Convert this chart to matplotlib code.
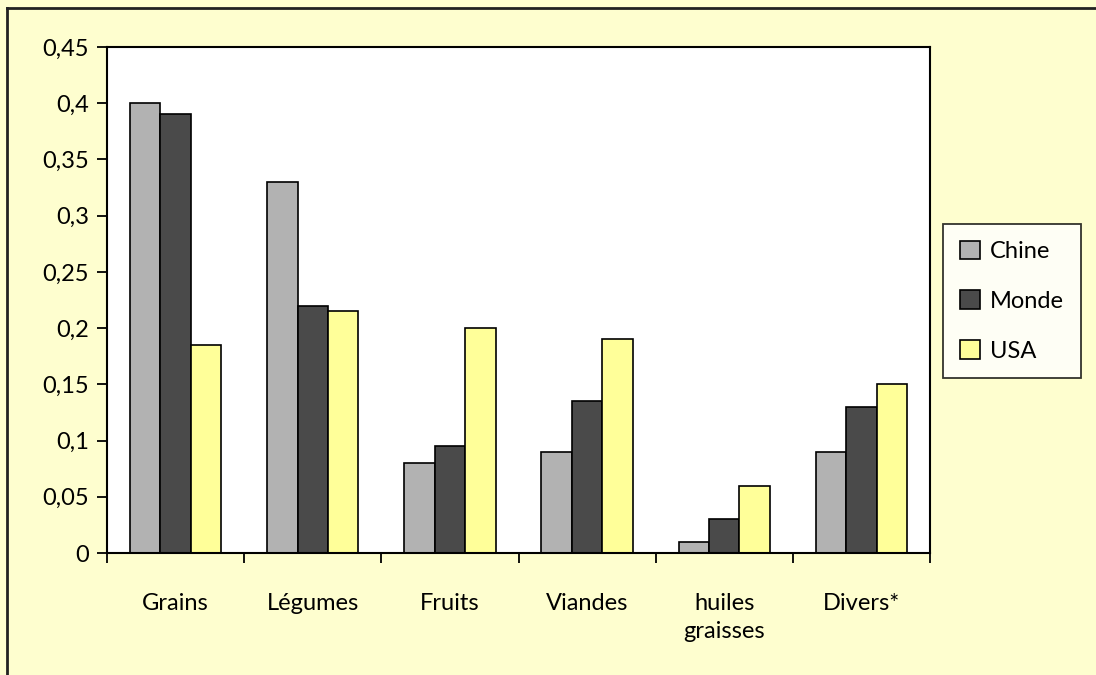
import numpy as np
import matplotlib
matplotlib.use("Agg")
import matplotlib.pyplot as plt
from matplotlib.lines import Line2D
from matplotlib.ticker import FixedLocator, FuncFormatter

plt.rcParams['font.family'] = ['Lato', 'DejaVu Sans']

# Share of each food group in the diet
categories = ["Grains", "Légumes", "Fruits", "Viandes", "huiles\ngraisses", "Divers*"]
chine = [0.40, 0.33, 0.08, 0.09, 0.01, 0.09]
monde = [0.39, 0.22, 0.095, 0.135, 0.03, 0.13]
usa = [0.185, 0.215, 0.20, 0.19, 0.06, 0.15]
series = [("Chine", chine, "#b2b2b2"),
          ("Monde", monde, "#4a4a4a"),
          ("USA", usa, "#ffff99")]
y_ticks = [0, 0.05, 0.1, 0.15, 0.2, 0.25, 0.3, 0.35, 0.4, 0.45]

bg = "#fefecf"
fs = 17
fig = plt.figure(figsize=(10.96, 6.75), dpi=100, facecolor=bg)

# dark frame lines along the left and top of the chart area
fx, fy = 7 / 1096, 1 - 8 / 675
fig.lines.append(Line2D([fx, fx], [0, fy], transform=fig.transFigure,
                        color="#222222", linewidth=2.0))
fig.lines.append(Line2D([fx, 1], [fy, fy], transform=fig.transFigure,
                        color="#222222", linewidth=2.0))

ax = fig.add_axes([107 / 1096, 1 - 553 / 675, (930 - 107) / 1096, (553 - 47) / 675])
ax.set_facecolor("white")

x = np.arange(len(categories)) + 0.5
w = 0.222
for i, (name, vals, col) in enumerate(series):
    ax.bar(x + (i - 1) * w, vals, w, color=col, edgecolor="black",
           linewidth=1.2, label=name)

ax.set_xlim(0, len(categories))
ax.set_ylim(0, 0.45)
ax.set_yticks(y_ticks)
ax.yaxis.set_major_formatter(FuncFormatter(lambda v, p: f"{v:g}".replace(".", ",")))
ax.xaxis.set_major_locator(FixedLocator(np.arange(len(categories) + 1)))
ax.xaxis.set_major_formatter(FuncFormatter(lambda v, p: ""))
ax.set_xticks(x, minor=True)
ax.set_xticklabels(categories, minor=True, fontsize=fs, linespacing=1.4)
ax.tick_params(axis="x", which="minor", length=0, pad=29)
ax.tick_params(axis="x", which="major", length=7, width=1.3, direction="out")
ax.tick_params(axis="y", length=7, width=1.3, labelsize=fs, pad=6)
for s in ax.spines.values():
    s.set_linewidth(1.5)

leg = ax.legend(loc="upper left", bbox_to_anchor=(943 / 1096, 1 - 224 / 675),
                bbox_transform=fig.transFigure, fontsize=fs, frameon=True,
                fancybox=False, edgecolor="black", handlelength=0.85,
                handleheight=0.85, handletextpad=0.45, labelspacing=1.2,
                borderpad=0.7, borderaxespad=0)
leg.get_frame().set_linewidth(1.3)
leg.get_frame().set_facecolor("white")

fig.savefig("out.png", dpi=100, facecolor=bg)
